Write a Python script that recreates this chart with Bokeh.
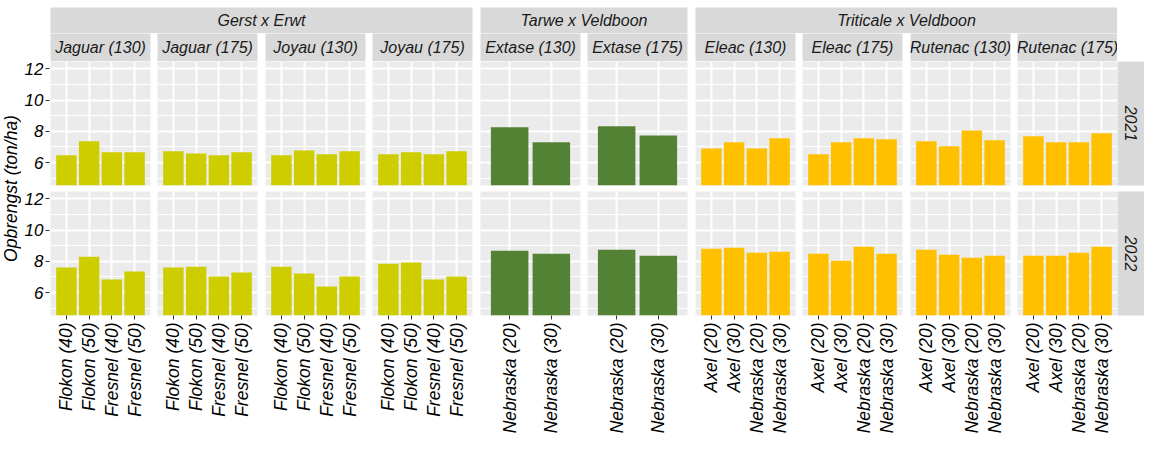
import math
from bokeh.plotting import figure
from bokeh.models import FactorRange, Range1d, FixedTicker, ColumnDataSource, Spacer
from bokeh.layouts import row, column
from bokeh.core.properties import value
from bokeh.embed import file_html
from bokeh.resources import INLINE

# ---------------- data ----------------
groups = ["Gerst x Erwt", "Tarwe x Veldboon", "Triticale x Veldboon"]
panel_names = ["Jaguar (130)", "Jaguar (175)", "Joyau (130)", "Joyau (175)",
               "Extase (130)", "Extase (175)",
               "Eleac (130)", "Eleac (175)", "Rutenac (130)", "Rutenac (175)"]
panel_group = [0, 0, 0, 0, 1, 1, 2, 2, 2, 2]
years = ["2021", "2022"]

gerst_cats = ["Flokon (40)", "Flokon (50)", "Fresnel (40)", "Fresnel (50)"]
tarwe_cats = ["Nebraska (20)", "Nebraska (30)"]
trit_cats = ["Axel (20)", "Axel (30)", "Nebraska (20)", "Nebraska (30)"]
group_cats = [gerst_cats, tarwe_cats, trit_cats]
group_colors = ["#CDCD00", "#548235", "#FFC000"]

# yields (ton/ha), 2021
jaguar130_2021 = [6.47, 7.36, 6.66, 6.66]
jaguar175_2021 = [6.72, 6.59, 6.47, 6.66]
joyau130_2021 = [6.47, 6.78, 6.53, 6.72]
joyau175_2021 = [6.53, 6.66, 6.53, 6.72]
extase130_2021 = [8.26, 7.30]
extase175_2021 = [8.32, 7.74]
eleac130_2021 = [6.91, 7.30, 6.91, 7.55]
eleac175_2021 = [6.53, 7.30, 7.55, 7.49]
rutenac130_2021 = [7.36, 7.04, 8.06, 7.43]
rutenac175_2021 = [7.68, 7.30, 7.30, 7.87]

# yields (ton/ha), 2022
jaguar130_2022 = [7.60, 8.29, 6.84, 7.35]
jaguar175_2022 = [7.60, 7.66, 7.03, 7.28]
joyau130_2022 = [7.66, 7.22, 6.40, 7.03]
joyau175_2022 = [7.85, 7.92, 6.84, 7.03]
extase130_2022 = [8.67, 8.48]
extase175_2022 = [8.74, 8.36]
eleac130_2022 = [8.80, 8.86, 8.55, 8.61]
eleac175_2022 = [8.48, 8.04, 8.93, 8.48]
rutenac130_2022 = [8.74, 8.42, 8.23, 8.36]
rutenac175_2022 = [8.36, 8.36, 8.55, 8.93]

vals_2021 = [jaguar130_2021, jaguar175_2021, joyau130_2021, joyau175_2021,
             extase130_2021, extase175_2021, eleac130_2021, eleac175_2021,
             rutenac130_2021, rutenac175_2021]
vals_2022 = [jaguar130_2022, jaguar175_2022, joyau130_2022, joyau175_2022,
             extase130_2022, extase175_2022, eleac130_2022, eleac175_2022,
             rutenac130_2022, rutenac175_2022]

y_ticks = [6, 8, 10, 12]
y_minor = [5, 7, 9, 11]
y_label = "Opbrengst (ton/ha)"

# ---------------- layout constants ----------------
FONT_NAME = "Liberation Sans"
FONT = value(FONT_NAME)
AX_FS = "17.5px"
TICK_FS = "17px"
STRIP_FS = "16px"
PW, PH = 100, 124
GAPS = [7, 8, 7, 8, 7, 8, 7, 8, 7, 0]
LB = 24          # left axis border (minimum)
XB = 120         # bottom axis border
RG = 6           # gap between panel rows
ST1, ST2 = 26, 28
YSW = 27
YTW = 21
Y0, Y1 = 4.54, 12.46
PAD_T = 7


def base_fig(**kw):
    return figure(output_backend="svg", toolbar_location=None, title=None,
                  outline_line_color=None, border_fill_color="white", **kw)


def text_box(label, fw, fh, rb=0, bb=0, tb=0, angle=0.0, bg="#D9D9D9",
             color="#1A1A1A", fs=STRIP_FS):
    p = base_fig(x_range=FactorRange(label), y_range=FactorRange(label),
                 frame_width=fw, frame_height=fh,
                 min_border_left=0, min_border_right=rb,
                 min_border_top=tb, min_border_bottom=bb,
                 x_axis_location=None, y_axis_location=None,
                 background_fill_color=bg)
    p.grid.visible = False
    p.text(x=[label], y=[label], text=[label], angle=angle,
           text_align="center", text_baseline="middle",
           text_font=FONT, text_font_style="italic", text_font_size=fs,
           text_color=color)
    return p


def y_axis_fig(tb, bb):
    p = base_fig(x_range=Range1d(0, 1), y_range=Range1d(Y0, Y1),
                 frame_width=1, frame_height=PH,
                 min_border_left=LB, min_border_right=0,
                 min_border_top=tb, min_border_bottom=bb,
                 x_axis_location=None, y_axis_location="left",
                 background_fill_color="white")
    p.grid.visible = False
    ax = p.yaxis[0]
    ax.ticker = FixedTicker(ticks=y_ticks)
    ax.axis_line_color = None
    ax.major_tick_in = 0
    ax.major_tick_out = 4
    ax.major_tick_line_color = "#333333"
    ax.minor_tick_line_color = None
    ax.major_label_standoff = 2
    ax.major_label_text_font = FONT_NAME
    ax.major_label_text_font_style = "italic"
    ax.major_label_text_font_size = TICK_FS
    ax.major_label_text_color = "black"
    return p


def panel(cats, vals, color, bottom, rb):
    p = base_fig(x_range=FactorRange(*cats, range_padding=0.2, range_padding_units="absolute"),
                 y_range=Range1d(Y0, Y1),
                 frame_width=PW, frame_height=PH,
                 min_border_left=0, min_border_right=rb,
                 min_border_top=0, min_border_bottom=XB if bottom else RG,
                 x_axis_location="below" if bottom else None,
                 y_axis_location=None,
                 background_fill_color="#EBEBEB")
    src = ColumnDataSource(dict(x=cats, top=vals))
    p.vbar(x="x", top="top", bottom=0, width=0.9, source=src,
           fill_color=color, line_color=None)
    p.ygrid.ticker = FixedTicker(ticks=y_ticks, minor_ticks=y_minor)
    p.ygrid.grid_line_color = "white"
    p.ygrid.grid_line_width = 2
    p.ygrid.minor_grid_line_color = "white"
    p.ygrid.minor_grid_line_width = 1
    p.xgrid.grid_line_color = "white"
    p.xgrid.grid_line_width = 2
    if bottom:
        ax = p.xaxis[0]
        ax.axis_line_color = None
        ax.major_tick_in = 0
        ax.major_tick_out = 4
        ax.major_tick_line_color = "#333333"
        ax.major_label_standoff = 3
        ax.major_label_orientation = math.pi / 2
        ax.major_label_text_font = FONT_NAME
        ax.major_label_text_font_style = "italic"
        ax.major_label_text_font_size = AX_FS
        ax.major_label_text_color = "black"
    return p


# y title column
yt = text_box(y_label, YTW, 2 * PH + RG, tb=ST1 + ST2, bb=XB, angle=math.pi / 2,
              bg="white", color="black", fs=AX_FS)

# y axis column (one axis per panel row)
ax_col = column(Spacer(width=LB + 1, height=ST1 + ST2 - RG),
                y_axis_fig(tb=RG, bb=RG),
                y_axis_fig(tb=0, bb=XB))

# level-1 strips
l1 = []
for g, name in enumerate(groups):
    members = [i for i in range(len(panel_names)) if panel_group[i] == g]
    fw = PW * len(members) + sum(GAPS[i] for i in members[:-1])
    l1.append(text_box(name, fw, ST1, rb=GAPS[members[-1]]))
row_l1 = row(*l1)

# level-2 strips
l2 = []
for i, name in enumerate(panel_names):
    l2.append(text_box(name, PW, ST2, rb=GAPS[i]))
row_l2 = row(*l2)

rows = []
for yi, (yr, vals) in enumerate(zip(years, [vals_2021, vals_2022])):
    bottom = yi == len(years) - 1
    figs = []
    for i, name in enumerate(panel_names):
        g = panel_group[i]
        figs.append(panel(group_cats[g], vals[i], group_colors[g],
                          bottom=bottom, rb=GAPS[i]))
    figs.append(text_box(yr, YSW, PH, bb=XB if bottom else RG, angle=-math.pi / 2))
    rows.append(row(*figs))

layout = column(Spacer(width=10, height=PAD_T),
                row(yt, ax_col, column(row_l1, row_l2, *rows)))

open("out.html", "w").write(file_html(layout, INLINE))
